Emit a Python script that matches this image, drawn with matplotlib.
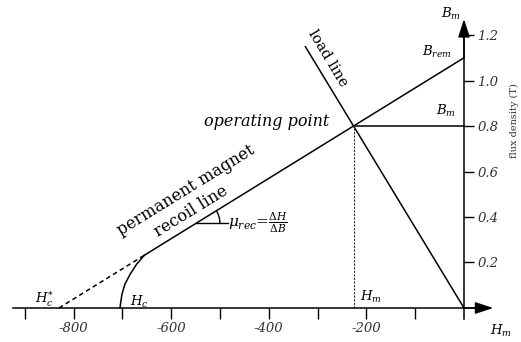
import numpy as np
import matplotlib
matplotlib.use('Agg')
import matplotlib.pyplot as plt
from matplotlib.patches import Arc

plt.rcParams['font.family'] = 'DejaVu Serif'
plt.rcParams['mathtext.fontset'] = 'dejavuserif'

# magnet / circuit values
B_rem = 1.1          # remanence (T)
Hc_star = -830.0     # recoil line intercept on H axis
Hc = -705.0          # intrinsic coercivity, where the demag knee starts
B_m = 0.8            # operating flux density
load_end_H = -325.0  # where the drawn load line stops

# demagnetization knee, read along the curve from Hc up to the recoil line
knee_H = [-705, -704, -701, -695, -684, -671, -655]
knee_B = [0.0, 0.016, 0.060, 0.104, 0.149, 0.192, 0.232]

x_ticks = [-900, -800, -700, -600, -500, -400, -300, -200, -100]
x_labels = ['', '-800', '', '-600', '', '-400', '', '-200', '']
y_ticks = [0.2, 0.4, 0.6, 0.8, 1.0, 1.2]
y_labels = ['0.2', '0.4', '0.6', '0.8', '1.0', '1.2']

# operating point = recoil line meets B = B_m
H_m = Hc_star * (1 - B_m / B_rem)
slope = B_rem / -Hc_star

fig = plt.figure(figsize=(5.21, 3.42), dpi=100)
ax = fig.add_axes([0, 0, 1, 1])
ax.set_xlim(-950.8, 116.8)
ax.set_ylim(-0.1495, 1.354)

# axes through the origin
for s in ['top', 'left']:
    ax.spines[s].set_visible(False)
ax.spines['bottom'].set_position(('data', 0))
ax.spines['right'].set_position(('data', 0))
ax.spines['bottom'].set_bounds(-925, 40)
ax.spines['right'].set_bounds(-0.05, 1.2)
ax.yaxis.tick_right()
ax.xaxis.tick_bottom()
for s in ['bottom', 'right']:
    ax.spines[s].set_linewidth(1.1)

ax.set_xticks(x_ticks)
ax.set_xticklabels(x_labels, style='italic', fontsize=9.5, color='#333')
ax.set_yticks(y_ticks)
ax.set_yticklabels(y_labels, style='italic', fontsize=9.5, color='#333')
ax.tick_params(axis='x', direction='out', length=8, width=1.0, pad=2)
ax.tick_params(axis='y', direction='out', length=7, width=1.0, pad=2.5)

arrow = dict(arrowstyle='-|>,head_length=1.1,head_width=0.36', color='k',
             lw=1.1, mutation_scale=10, shrinkA=0, shrinkB=0)
ax.annotate('', xy=(60, 0), xytext=(0, 0), arrowprops=arrow)
ax.annotate('', xy=(0, 1.27), xytext=(0, 1.1), arrowprops=arrow)

# recoil line: dashed below the knee, solid above
ax.plot([Hc_star, knee_H[-1]], [0, slope * (knee_H[-1] - Hc_star)],
        color='k', lw=1.1, ls=(0, (3, 2.2)))
ax.plot([knee_H[-1], 0], [slope * (knee_H[-1] - Hc_star), B_rem],
        color='k', lw=1.1)
ax.plot(knee_H, knee_B, color='k', lw=1.1)

# load line and operating point guides
ax.plot([0, load_end_H], [0, B_m / H_m * load_end_H], color='k', lw=1.1)
ax.plot([H_m, 0], [B_m, B_m], color='k', lw=1.1)
ax.plot([H_m, H_m], [0, B_m], color='#333', lw=0.8, ls=(0, (2, 1.2)))

# angle mark for the recoil permeability
Bv = 0.372
Hv = Hc_star + Bv / slope
ax.plot([Hv, Hv + 66], [Bv, Bv], color='k', lw=1.0)
ax.add_patch(Arc((Hv, Bv), width=2 * 24 / 0.488, height=2 * 24 / 227.5,
                 theta1=0, theta2=np.degrees(np.arctan(slope)), color='k', lw=1.0))

ax.text(-404, 0.818, 'operating point', style='italic', fontsize=11.5,
        ha='center', va='center')
ax.text(-279, 1.099, 'load line', fontsize=10.5, rotation=-59,
        rotation_mode='anchor', ha='center', va='center')
ax.text(-570, 0.519, 'permanent magnet', fontsize=11.8, rotation=31.6,
        rotation_mode='anchor', ha='center', va='center')
ax.text(-560, 0.424, 'recoil line', fontsize=11.8, rotation=31.6,
        rotation_mode='anchor', ha='center', va='center')
ax.text(-484, 0.374, r'$\mu_{rec}$=$\frac{\Delta H}{\Delta B}$', fontsize=11,
        ha='left', va='center')

ax.text(-27, 1.292, r'$B_m$', fontsize=9.5, ha='center', va='center')
ax.text(-55, 1.125, r'$B_{rem}$', fontsize=9.5, ha='center', va='center')
ax.text(-37, 0.866, r'$B_m$', fontsize=9.5, ha='center', va='center')
ax.text(-191, 0.048, r'$H_m$', fontsize=9.5, ha='center', va='center')
ax.text(76, -0.101, r'$H_m$', fontsize=9.5, ha='center', va='center')
ax.text(-859, 0.04, r'$H_c^{*}$', fontsize=9.5, ha='center', va='center')
ax.text(-666, 0.026, r'$H_c$', fontsize=9.5, ha='center', va='center')
ax.text(102.5, 0.826, 'flux density (T)', fontsize=7, rotation=90,
        ha='center', va='center', color='#333')

fig.savefig('out.png', dpi=100)
